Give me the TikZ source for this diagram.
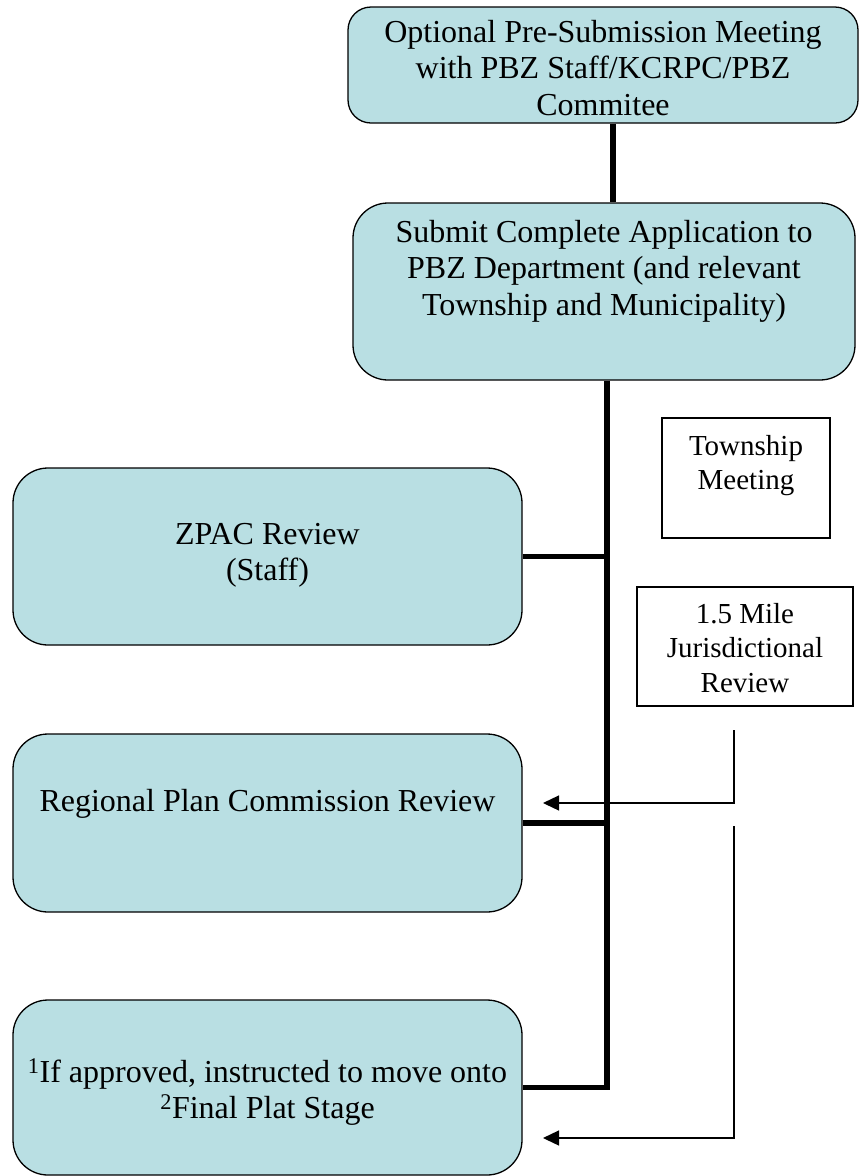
\documentclass[tikz,border=0pt]{standalone}
\usepackage{fontspec}
\setmainfont{Liberation Serif}
\usetikzlibrary{arrows.meta,calc}
\definecolor{boxteal}{RGB}{185,223,227}
\tikzset{
  rbox/.style={draw=black, fill=boxteal, line width=1.3pt, inner sep=0pt},
  pbox/.style={draw=black, fill=white, line width=1.3pt, inner sep=0pt},
  bigtext/.style={font=\fontsize{32pt}{36.5pt}\selectfont, align=center, inner sep=0pt, anchor=north},
  smalltext/.style={font=\fontsize{29pt}{34.5pt}\selectfont, align=center, inner sep=0pt, anchor=north},
  thickline/.style={line width=5.5pt, line join=miter},
  thinarrow/.style={line width=1.3pt, -{Triangle[length=16pt,width=15pt]}}
}
\begin{document}
\begin{tikzpicture}[x=1pt,y=-1pt]
\useasboundingbox (0,0) rectangle (864,1176);
% boxes
\node[rbox, rounded corners=23pt, minimum width=510pt, minimum height=116pt] (top) at (603,65) {};
\node[rbox, rounded corners=35pt, minimum width=502pt, minimum height=177pt] (submit) at (604,291.5) {};
\node[rbox, rounded corners=35pt, minimum width=509pt, minimum height=177pt] (zpac) at (267.5,556.5) {};
\node[pbox, minimum width=168pt, minimum height=120pt] (town) at (746,478) {};
\node[pbox, minimum width=216pt, minimum height=119pt] (mile) at (745,646.5) {};
\node[rbox, rounded corners=35pt, minimum width=509pt, minimum height=178pt] (rpc) at (267.5,823) {};
\node[rbox, rounded corners=35pt, minimum width=509pt, minimum height=175pt] (final) at (267.5,1087.5) {};
% texts
\node[bigtext] (ttop) at (603,20) {Optional Pre-Submission Meeting\\with PBZ Staff/KCRPC/PBZ\\Commitee};
\node[bigtext] (tsubmit) at (604,220) {Submit Complete Application to\\PBZ Department (and relevant\\Township and Municipality)};
\node[bigtext] (tzpac) at (267.5,523) {ZPAC Review\\(Staff)};
\node[smalltext] (ttown) at (746,435) {Township\\Meeting};
\node[smalltext] (tmile) at (745,603) {1.5 Mile\\Jurisdictional\\Review};
\node[bigtext] (trpc) at (267.5,789) {Regional Plan Commission Review};
\node[bigtext] (tfinal) at (267.5,1058) {\textsuperscript{1}If approved, instructed to move onto\\\textsuperscript{2}Final Plat Stage};
% connector coordinates
\coordinate (cx1) at (613,0);
\coordinate (spine) at (607,0);
\coordinate (a1s) at (734,730);
\coordinate (a1e) at (543,803);
\coordinate (a2s) at (734,826);
\coordinate (a2e) at (543,1138);
% thick connectors
\draw[thickline] (top.south -| cx1) -- (submit.north -| cx1);
\draw[thickline] (submit.south -| spine) -- (spine |- final.east) -- (final.east);
\draw[thickline] (zpac.east) -- (zpac.east -| spine);
\draw[thickline] (rpc.east) -- (rpc.east -| spine);
% thin arrows
\draw[thinarrow] (a1s) |- (a1e);
\draw[thinarrow] (a2s) |- (a2e);
\end{tikzpicture}
\end{document}
